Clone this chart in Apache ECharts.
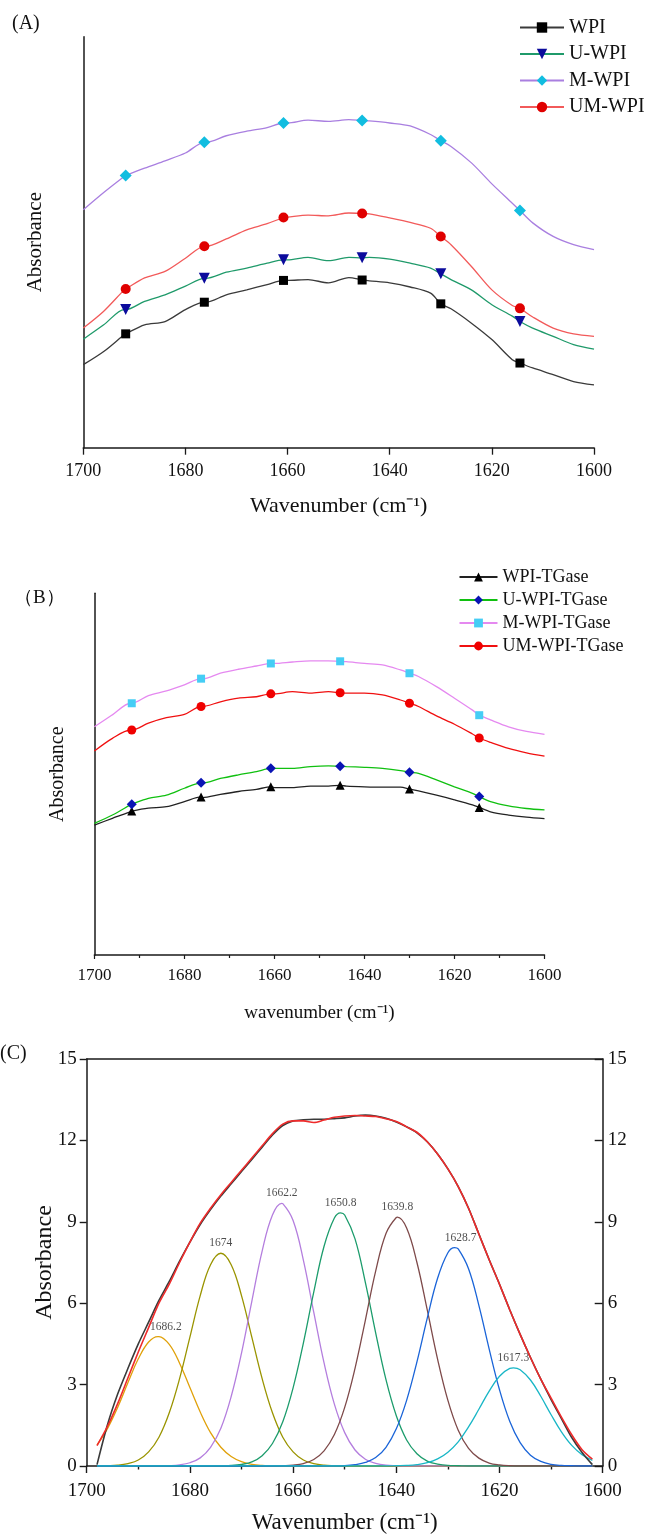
<!DOCTYPE html>
<html>
<head>
<meta charset="utf-8">
<script src="https://cdn.jsdelivr.net/npm/echarts@6/dist/echarts.min.js"></script>
<style>
  html, body { margin: 0; padding: 0; background: #fff; }
  #chart { width: 645px; height: 1535px; }
</style>
</head>
<body>
<div id="chart"></div>
<script>
// ---- panels A and B: spectra read every 4 cm-1, markers at fixed wavenumbers ----
const wnAB = [1700, 1696, 1692, 1688, 1684, 1680, 1676, 1672, 1668, 1664, 1660, 1656, 1652,
              1648, 1644, 1640, 1636, 1632, 1628, 1624, 1620, 1616, 1612, 1608, 1604, 1600];
const markerWn = [1691.7, 1676.3, 1660.8, 1645.4, 1630.0, 1614.5];
const xTicks = [1700, 1680, 1660, 1640, 1620, 1600];

// (A)
const wpi = [0.202, 0.234, 0.275, 0.299, 0.307, 0.336, 0.354, 0.372, 0.384, 0.397, 0.407, 0.409, 0.401,
             0.414, 0.406, 0.401, 0.391, 0.376, 0.338, 0.303, 0.263, 0.214, 0.194, 0.178, 0.161, 0.153];
const wpiMarks = [0.277, 0.354, 0.407, 0.408, 0.350, 0.206];
const uWpi = [0.264, 0.299, 0.336, 0.356, 0.372, 0.393, 0.412, 0.427, 0.437, 0.449, 0.457, 0.463, 0.455,
              0.463, 0.463, 0.459, 0.449, 0.437, 0.409, 0.384, 0.348, 0.320, 0.291, 0.271, 0.251, 0.240];
const uWpiMarks = [0.336, 0.412, 0.457, 0.462, 0.423, 0.307];
const mWpi = [0.579, 0.621, 0.660, 0.680, 0.698, 0.717, 0.743, 0.759, 0.770, 0.779, 0.790, 0.797, 0.794,
              0.798, 0.795, 0.790, 0.783, 0.762, 0.733, 0.693, 0.642, 0.595, 0.547, 0.514, 0.494, 0.482];
const mWpiMarks = [0.662, 0.743, 0.790, 0.796, 0.747, 0.577];
const umWpi = [0.291, 0.332, 0.384, 0.413, 0.429, 0.461, 0.490, 0.508, 0.530, 0.545, 0.561, 0.566, 0.564,
               0.571, 0.569, 0.559, 0.548, 0.534, 0.494, 0.441, 0.384, 0.346, 0.318, 0.291, 0.277, 0.271];
const umWpiMarks = [0.386, 0.490, 0.560, 0.570, 0.514, 0.339];

// (B)
const wpiTg = [0.359, 0.378, 0.396, 0.406, 0.410, 0.424, 0.435, 0.444, 0.452, 0.458, 0.463, 0.463, 0.467,
               0.467, 0.467, 0.465, 0.464, 0.464, 0.454, 0.442, 0.429, 0.415, 0.396, 0.387, 0.381, 0.377];
const wpiTgMarks = [0.398, 0.437, 0.465, 0.469, 0.459, 0.408];
const uWpiTg = [0.364, 0.387, 0.415, 0.433, 0.442, 0.461, 0.475, 0.488, 0.498, 0.507, 0.516, 0.516, 0.521,
                0.523, 0.521, 0.519, 0.516, 0.510, 0.502, 0.484, 0.465, 0.447, 0.424, 0.412, 0.405, 0.401];
const uWpiTgMarks = [0.417, 0.476, 0.516, 0.522, 0.505, 0.438];
const mWpiTg = [0.631, 0.664, 0.696, 0.717, 0.730, 0.747, 0.763, 0.779, 0.790, 0.799, 0.806, 0.810, 0.813,
                0.813, 0.811, 0.806, 0.802, 0.788, 0.770, 0.742, 0.710, 0.677, 0.650, 0.631, 0.618, 0.610];
const mWpiTgMarks = [0.696, 0.764, 0.806, 0.812, 0.779, 0.663];
const umWpiTg = [0.564, 0.599, 0.622, 0.641, 0.656, 0.665, 0.687, 0.700, 0.710, 0.714, 0.722, 0.728, 0.724,
                 0.728, 0.724, 0.724, 0.719, 0.705, 0.687, 0.661, 0.638, 0.611, 0.588, 0.571, 0.559, 0.550];
const umWpiTgMarks = [0.622, 0.687, 0.722, 0.725, 0.696, 0.600];

// ---- panel C: curve fitting of amide I band, read every 2 cm-1 ----
const wnC = [1698, 1696, 1694, 1692, 1690, 1688, 1686, 1684, 1682, 1680, 1678, 1676, 1674, 1672, 1670,
             1668, 1666, 1664, 1662, 1660, 1658, 1656, 1654, 1652, 1650, 1648, 1646, 1644, 1642, 1640,
             1638, 1636, 1634, 1632, 1630, 1628, 1626, 1624, 1622, 1620, 1618, 1616, 1614, 1612, 1610,
             1608, 1606, 1604, 1602];
const measured = [0.05, 1.5, 2.65, 3.6, 4.5, 5.3, 6.1, 6.8, 7.55, 8.25, 8.9, 9.45, 9.95, 10.4, 10.85,
                  11.3, 11.75, 12.2, 12.55, 12.72, 12.76, 12.78, 12.78, 12.8, 12.83, 12.9, 12.93, 12.9, 12.82, 12.68,
                  12.5, 12.28, 11.95, 11.5, 10.95, 10.3, 9.5, 8.55, 7.6, 6.7, 5.75, 4.85, 4.0, 3.2, 2.45,
                  1.75, 1.05, 0.5, 0.05];
const fitted = [0.75, 1.45, 2.3, 3.25, 4.2, 5.1, 6.0, 6.7, 7.5, 8.25, 8.95, 9.5, 10.0, 10.45, 10.9,
                11.35, 11.8, 12.25, 12.6, 12.72, 12.72, 12.66, 12.75, 12.85, 12.9, 12.92, 12.9, 12.88, 12.8, 12.7,
                12.5, 12.3, 11.95, 11.5, 10.95, 10.3, 9.5, 8.55, 7.6, 6.7, 5.75, 4.85, 4.0, 3.2, 2.5,
                1.8, 1.15, 0.6, 0.25];
const band1686 = [0.78, 1.37, 2.16, 3.08, 3.95, 4.57, 4.77, 4.48, 3.79, 2.89, 1.99, 1.23, 0.69, 0.35, 0.16,
                  0.06, 0.02, 0.01, 0, 0, 0, 0, 0, 0, 0, 0, 0, 0, 0, 0,
                  0, 0, 0, 0, 0, 0, 0, 0, 0, 0, 0, 0, 0, 0, 0, 0, 0, 0, 0];
const band1674 = [0, 0.01, 0.03, 0.09, 0.22, 0.52, 1.06, 1.96, 3.22, 4.75, 6.28, 7.42, 7.84, 7.42, 6.28,
                  4.75, 3.22, 1.96, 1.06, 0.52, 0.22, 0.09, 0.03, 0.01, 0, 0, 0, 0, 0, 0,
                  0, 0, 0, 0, 0, 0, 0, 0, 0, 0, 0, 0, 0, 0, 0, 0, 0, 0, 0];
const band1662 = [0, 0, 0, 0, 0, 0, 0, 0.01, 0.04, 0.12, 0.30, 0.69, 1.39, 2.56, 4.16,
                  6.07, 7.92, 9.25, 9.67, 9.05, 7.58, 5.67, 3.80, 2.28, 1.23, 0.59, 0.25, 0.10, 0.03, 0.01,
                  0, 0, 0, 0, 0, 0, 0, 0, 0, 0, 0, 0, 0, 0, 0, 0, 0, 0, 0];
const band1651 = [0, 0, 0, 0, 0, 0, 0, 0, 0, 0, 0, 0, 0.01, 0.02, 0.06,
                  0.15, 0.38, 0.83, 1.63, 2.88, 4.54, 6.41, 8.10, 9.14, 9.25, 8.37, 6.77, 4.91, 3.18, 1.85,
                  0.96, 0.45, 0.18, 0.07, 0.02, 0.01, 0, 0, 0, 0, 0, 0, 0, 0, 0, 0, 0, 0, 0];
const band1640 = [0, 0, 0, 0, 0, 0, 0, 0, 0, 0, 0, 0, 0, 0, 0,
                  0, 0, 0, 0.01, 0.03, 0.09, 0.24, 0.56, 1.16, 2.16, 3.60, 5.37, 7.18, 8.57, 9.16,
                  8.77, 7.50, 5.75, 3.94, 2.42, 1.32, 0.65, 0.29, 0.11, 0.04, 0.01, 0, 0, 0, 0, 0, 0, 0, 0];
const band1629 = [0, 0, 0, 0, 0, 0, 0, 0, 0, 0, 0, 0, 0, 0, 0,
                  0, 0, 0, 0, 0, 0, 0, 0, 0, 0.01, 0.05, 0.13, 0.31, 0.69, 1.37,
                  2.42, 3.84, 5.45, 6.92, 7.86, 8.00, 7.27, 5.92, 4.31, 2.81, 1.64, 0.86, 0.40, 0.17, 0.06,
                  0.02, 0.01, 0, 0];
const band1617 = [0, 0, 0, 0, 0, 0, 0, 0, 0, 0, 0, 0, 0, 0, 0,
                  0, 0, 0, 0, 0, 0, 0, 0, 0, 0, 0, 0, 0, 0, 0.01,
                  0.02, 0.05, 0.12, 0.26, 0.51, 0.89, 1.44, 2.09, 2.76, 3.31, 3.60, 3.55, 3.17, 2.57, 1.89,
                  1.26, 0.76, 0.42, 0.21];
const peakWn = [1686.2, 1674, 1662.2, 1650.8, 1639.8, 1628.7, 1617.3];
const peakAbs = [4.77, 7.84, 9.68, 9.33, 9.17, 8.05, 3.62];
const peakLabels = ['1686.2', '1674', '1662.2', '1650.8', '1639.8', '1628.7', '1617.3'];
const yTicksC = [0, 3, 6, 9, 12, 15];

const FONT = '"Liberation Serif", "Times New Roman", serif';
const AXIS_COLOR = '#1a1a1a';
// small sideways nudges of the peak labels, as in the original figure
const peakLabelShift = [8, 0, 0, 0, 0, 6, 0];

// curve + markers in one line series (markers only on the marker points)
function markedData(xs, ys, mx, my) {
    const pts = xs.map((x, i) => ({ value: [x, ys[i]], symbol: 'none' }));
    mx.forEach((x, i) => pts.push({ value: [x, my[i]] }));
    pts.sort((a, b) => b.value[0] - a.value[0]);
    return pts;
}

function markedLine(name, idx, ys, mx, my, lineColor, markColor, symbol, size, rotate) {
    return {
        type: 'line', name: name, xAxisIndex: idx, yAxisIndex: idx,
        data: markedData(wnAB, ys, mx, my),
        smooth: 0.3, showSymbol: true, showAllSymbol: true,
        symbol: symbol, symbolSize: size, symbolRotate: rotate || 0,
        lineStyle: { color: lineColor, width: 1.3 },
        itemStyle: { color: markColor },
        z: 3
    };
}

function bandData(ys, px, py) {
    const pts = wnC.map((x, i) => [x, ys[i]]);
    if (px !== undefined && wnC.indexOf(px) < 0) pts.push([px, py]);
    pts.sort((a, b) => b[0] - a[0]);
    return pts;
}

function bandLine(name, ys, k, color) {
    return {
        type: 'line', name: name, xAxisIndex: 2, yAxisIndex: 2,
        data: bandData(ys, peakWn[k], peakAbs[k]),
        smooth: 0.4, showSymbol: false,
        lineStyle: { color: color, width: 1.3 }
    };
}

const xAxisBase = (grid, opts) => Object.assign({
    type: 'value', gridIndex: grid, min: 1600, max: 1700, interval: 20, inverse: true,
    axisLine: { show: true, onZero: false, lineStyle: { color: AXIS_COLOR, width: 1.5 } },
    splitLine: { show: false },
    nameLocation: 'middle', nameMoveOverlap: false,
    nameTextStyle: { fontFamily: FONT, color: '#111' },
    axisLabel: { fontFamily: FONT, color: '#111' }
}, opts);

const tickText = (v) => xTicks.indexOf(v) >= 0 ? String(v) : '';

const chart = echarts.init(document.getElementById('chart'), null, { renderer: 'canvas' });

chart.setOption({
    animation: false,
    backgroundColor: '#fff',
    grid: [
        { left: 83.3, top: 36.7, width: 510.7, height: 411 },
        { left: 94.4, top: 593.3, width: 450.1, height: 361.7 },
        { left: 86.7, top: 1059, width: 516, height: 414.3 }
    ],
    xAxis: [
        xAxisBase(0, {
            name: 'Wavenumber (cm⁻¹)', nameGap: 48,
            nameTextStyle: { fontFamily: FONT, color: '#111', fontSize: 22 },
            axisTick: { show: true, length: 7, lineStyle: { color: AXIS_COLOR, width: 1.3 } },
            axisLabel: { fontFamily: FONT, color: '#111', fontSize: 18, margin: 15, formatter: tickText }
        }),
        xAxisBase(1, {
            name: 'wavenumber (cm⁻¹)', nameGap: 49,
            nameTextStyle: { fontFamily: FONT, color: '#111', fontSize: 19 },
            axisTick: { show: true, length: 4, lineStyle: { color: AXIS_COLOR, width: 1.2 } },
            minorTick: { show: true, splitNumber: 2, length: 3, lineStyle: { color: AXIS_COLOR, width: 1.2 } },
            axisLabel: { fontFamily: FONT, color: '#111', fontSize: 17, margin: 12, formatter: tickText }
        }),
        xAxisBase(2, {
            name: 'Wavenumber (cm⁻¹)', nameGap: 45,
            nameTextStyle: { fontFamily: FONT, color: '#111', fontSize: 23 },
            axisTick: { show: true, length: 7, lineStyle: { color: AXIS_COLOR, width: 1.4 } },
            minorTick: { show: true, splitNumber: 2, length: 3.5, lineStyle: { color: AXIS_COLOR, width: 1.4 } },
            axisLabel: { fontFamily: FONT, color: '#111', fontSize: 19, margin: 16, formatter: tickText }
        }),
        // top border of panel C
        xAxisBase(2, {
            position: 'top', axisTick: { show: false }, axisLabel: { show: false }
        })
    ],
    yAxis: [
        {
            type: 'value', gridIndex: 0, min: 0, max: 1,
            name: 'Absorbance', nameLocation: 'middle', nameGap: 37, nameMoveOverlap: false,
            nameTextStyle: { fontFamily: FONT, color: '#111', fontSize: 21 },
            axisLine: { show: true, lineStyle: { color: AXIS_COLOR, width: 1.5 } },
            axisTick: { show: false }, axisLabel: { show: false }, splitLine: { show: false }
        },
        {
            type: 'value', gridIndex: 1, min: 0, max: 1,
            name: 'Absorbance', nameLocation: 'middle', nameGap: 27, nameMoveOverlap: false,
            nameTextStyle: { fontFamily: FONT, color: '#111', fontSize: 20 },
            axisLine: { show: true, lineStyle: { color: AXIS_COLOR, width: 1.5 } },
            axisTick: { show: false }, axisLabel: { show: false }, splitLine: { show: false }
        },
        {
            type: 'value', gridIndex: 2, min: 0, max: 15, interval: 3,
            name: 'Absorbance', nameLocation: 'middle', nameGap: 30, nameMoveOverlap: false,
            nameTextStyle: { fontFamily: FONT, color: '#111', fontSize: 24 },
            axisLine: { show: true, lineStyle: { color: AXIS_COLOR, width: 1.5 } },
            axisTick: { show: true, length: 7, lineStyle: { color: AXIS_COLOR, width: 1.4 } },
            axisLabel: {
                fontFamily: FONT, color: '#111', fontSize: 19, margin: 10,
                formatter: (v) => yTicksC.indexOf(v) >= 0 ? String(v) : ''
            },
            splitLine: { show: false }
        },
        {
            type: 'value', gridIndex: 2, min: 0, max: 15, interval: 3, position: 'right',
            axisLine: { show: true, lineStyle: { color: AXIS_COLOR, width: 1.5 } },
            axisTick: { show: true, inside: true, length: 8, lineStyle: { color: AXIS_COLOR, width: 1.4 } },
            axisLabel: { fontFamily: FONT, color: '#111', fontSize: 19, margin: 5 },
            splitLine: { show: false }
        }
    ],
    legend: [
        {
            orient: 'vertical', left: 514, top: 12.5, itemWidth: 44, itemHeight: 13, itemGap: 6.5,
            textStyle: { fontFamily: FONT, fontSize: 20, color: '#111' },
            data: ['WPI', 'U-WPI', 'M-WPI', 'UM-WPI']
        },
        {
            orient: 'vertical', left: 453.5, top: 563, itemWidth: 38, itemHeight: 11, itemGap: 5,
            textStyle: { fontFamily: FONT, fontSize: 18, color: '#111' },
            data: ['WPI-TGase', 'U-WPI-TGase', 'M-WPI-TGase', 'UM-WPI-TGase']
        }
    ],
    graphic: [
        { type: 'text', left: 12, top: 14, style: { text: '(A)', font: '20px ' + FONT, fill: '#111' } },
        { type: 'text', left: 14, top: 589, style: { text: '（B）', font: '19px ' + FONT, fill: '#111' } },
        { type: 'text', left: 0, top: 1044, style: { text: '(C)', font: '20px ' + FONT, fill: '#111' } }
    ],
    series: [
        markedLine('WPI', 0, wpi, markerWn, wpiMarks, '#3a3a3a', '#000000', 'rect', 9),
        markedLine('U-WPI', 0, uWpi, markerWn, uWpiMarks, '#1f9a6a', '#0b0b9c', 'triangle', 11, 180),
        markedLine('M-WPI', 0, mWpi, markerWn, mWpiMarks, '#a97fe0', '#11bde0', 'diamond', 12),
        markedLine('UM-WPI', 0, umWpi, markerWn, umWpiMarks, '#f25a5a', '#e00000', 'circle', 10),

        markedLine('WPI-TGase', 1, wpiTg, markerWn, wpiTgMarks, '#222222', '#000000', 'triangle', 9),
        markedLine('U-WPI-TGase', 1, uWpiTg, markerWn, uWpiTgMarks, '#10c010', '#0a14b4', 'diamond', 10),
        markedLine('M-WPI-TGase', 1, mWpiTg, markerWn, mWpiTgMarks, '#e589f0', '#45cdf5', 'rect', 8),
        markedLine('UM-WPI-TGase', 1, umWpiTg, markerWn, umWpiTgMarks, '#f01010', '#f00000', 'circle', 9),

        bandLine('1686.2', band1686, 0, '#e0a10a'),
        bandLine('1674', band1674, 1, '#9a9400'),
        bandLine('1662.2', band1662, 2, '#b47ede'),
        bandLine('1650.8', band1651, 3, '#1c9c6c'),
        bandLine('1639.8', band1640, 4, '#7e4a4a'),
        bandLine('1628.7', band1629, 5, '#1a64d8'),
        bandLine('1617.3', band1617, 6, '#18b6c6'),
        {
            type: 'line', name: 'measured', xAxisIndex: 2, yAxisIndex: 2,
            data: wnC.map((x, i) => [x, measured[i]]),
            smooth: 0.3, showSymbol: false, lineStyle: { color: '#3a3a3a', width: 1.6 }
        },
        {
            type: 'line', name: 'fitted', xAxisIndex: 2, yAxisIndex: 2,
            data: wnC.map((x, i) => [x, fitted[i]]),
            smooth: 0.3, showSymbol: false, lineStyle: { color: '#ee2b2b', width: 1.6 }
        },
        {
            type: 'scatter', name: 'peaks', xAxisIndex: 2, yAxisIndex: 2,
            data: peakWn.map((x, i) => ({
                value: [x, peakAbs[i]],
                label: { offset: [peakLabelShift[i], 0] }
            })),
            symbolSize: 0, silent: true,
            label: {
                show: true, position: 'top', distance: 4,
                formatter: (p) => peakLabels[p.dataIndex],
                fontFamily: FONT, fontSize: 11.5, color: '#222'
            }
        }
    ]
});
</script>
</body>
</html>
